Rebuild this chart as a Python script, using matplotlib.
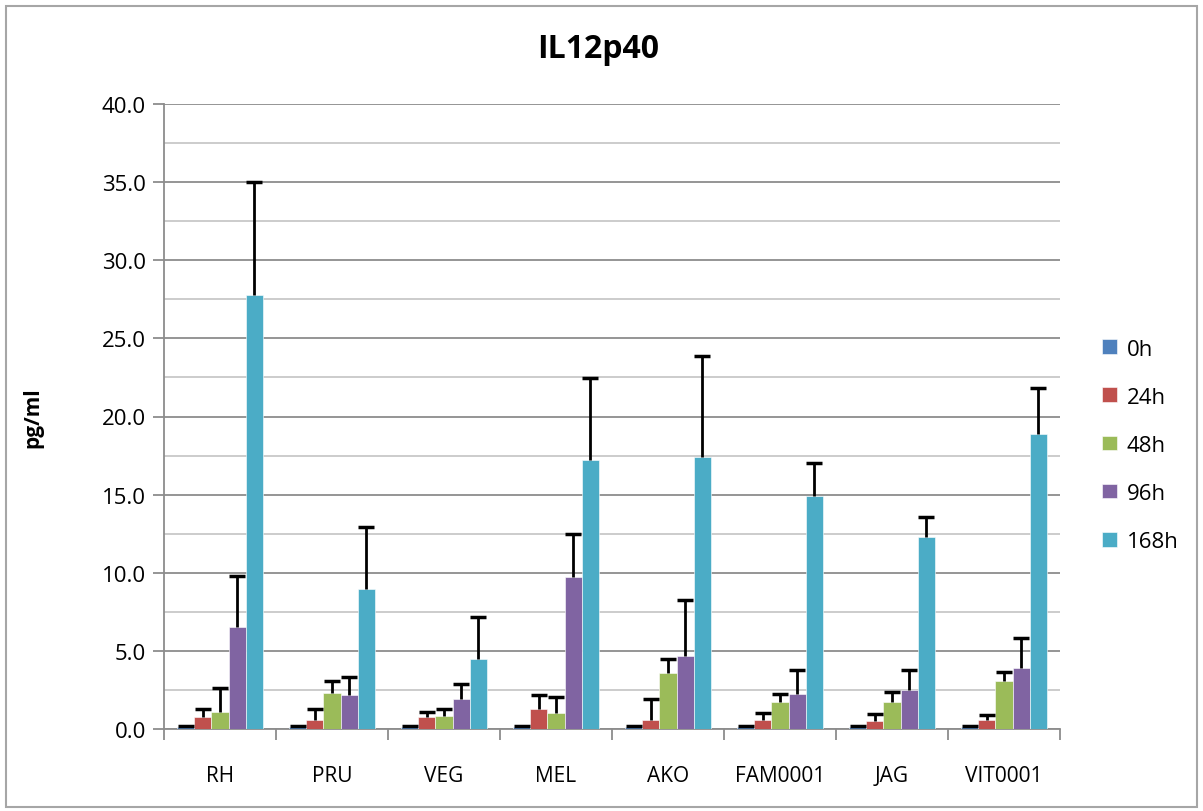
import numpy as np
import matplotlib.pyplot as plt
from matplotlib.patches import Rectangle
from matplotlib.ticker import MultipleLocator

plt.rcParams['font.family'] = ['Open Sans', 'DejaVu Sans']

strains = ['RH', 'PRU', 'VEG', 'MEL', 'AKO', 'FAM0001', 'JAG', 'VIT0001']
times = ['0h', '24h', '48h', '96h', '168h']
colors = ['#4F81BD', '#C0504D', '#9BBB59', '#8064A2', '#4BACC6']

# mean pg/ml per time point, one entry per strain
mean_0h = [0.1, 0.1, 0.1, 0.1, 0.1, 0.1, 0.1, 0.1]
mean_24h = [0.75, 0.6, 0.75, 1.25, 0.6, 0.55, 0.5, 0.6]
mean_48h = [1.1, 2.3, 0.85, 1.0, 3.6, 1.75, 1.75, 3.1]
mean_96h = [6.5, 2.15, 1.9, 9.75, 4.7, 2.25, 2.5, 3.9]
mean_168h = [27.8, 8.95, 4.5, 17.2, 17.4, 14.9, 12.3, 18.9]

# upper error (SD)
sd_0h = [0.1, 0.1, 0.1, 0.1, 0.1, 0.1, 0.1, 0.1]
sd_24h = [0.55, 0.7, 0.35, 0.95, 1.35, 0.45, 0.45, 0.3]
sd_48h = [1.5, 0.8, 0.4, 1.05, 0.85, 0.5, 0.6, 0.55]
sd_96h = [3.3, 1.2, 1.0, 2.7, 3.55, 1.5, 1.3, 1.95]
sd_168h = [7.2, 4.0, 2.65, 5.25, 6.5, 2.15, 1.3, 2.9]

means = [mean_0h, mean_24h, mean_48h, mean_96h, mean_168h]
sds = [sd_0h, sd_24h, sd_48h, sd_96h, sd_168h]

fig = plt.figure(figsize=(12.03, 8.12), dpi=100)
fig.patches.append(Rectangle((0.005, 0.005), 0.99, 0.986, transform=fig.transFigure,
                             fill=False, edgecolor='#A6A6A6', linewidth=1.5))
ax = fig.add_axes([164 / 1203, 1 - 730 / 812, (1060 - 164) / 1203, (730 - 105) / 812])

x = np.arange(len(strains))
w = 0.152
for i, (m, s) in enumerate(zip(means, sds)):
    pos = x + (i - 2) * w
    m = np.array(m)
    s = np.array(s)
    ax.bar(pos, m, width=w, color=colors[i], edgecolor='white', linewidth=0.4,
           label=times[i], zorder=3)
    # upper-only error bars: stem plus cap
    ax.vlines(pos, m, m + s, color='black', linewidth=2, zorder=4)
    ax.plot(pos, m + s, linestyle='none', marker='_', markersize=12,
            markeredgewidth=2.5, color='black', zorder=4)

ax.set_xlim(-0.5, len(strains) - 0.5)
ax.set_ylim(0, 40)
ax.yaxis.set_minor_locator(MultipleLocator(2.5))
ax.set_yticks(np.arange(0, 45, 5))
ax.set_yticklabels([f'{v:.1f}' for v in np.arange(0, 45, 5)], fontsize=16)
ax.grid(axis='y', which='major', color='#8C8C8C', linewidth=1.3, zorder=0)
ax.grid(axis='y', which='minor', color='#C8C8C8', linewidth=1.3, zorder=0)
ax.tick_params(axis='y', which='major', length=8, color='#8C8C8C', width=1.3, pad=5)
ax.tick_params(axis='y', which='minor', length=0)

ax.set_xticks(x)
ax.set_xticklabels(strains, fontsize=15)
ax.tick_params(axis='x', which='major', length=0, pad=26)
ax.set_xticks(np.arange(-0.5, len(strains)), minor=True)
ax.tick_params(axis='x', which='minor', length=8, color='#8C8C8C', width=1.3)

for sp in ['top', 'right']:
    ax.spines[sp].set_visible(False)
for sp in ['left', 'bottom']:
    ax.spines[sp].set_color('#8C8C8C')
    ax.spines[sp].set_linewidth(1.3)

ax.set_ylabel('pg/ml', fontsize=15, fontweight='bold', labelpad=42)
fig.text(0.497, 1 - 50 / 812, 'IL12p40', fontsize=23,
         fontweight='bold', ha='center', va='center')

leg = ax.legend(loc='center left', bbox_to_anchor=(1.025, 0.454), frameon=False,
                fontsize=16, handlelength=0.65, handleheight=0.65, labelspacing=1.22,
                handletextpad=0.45)

fig.savefig('out.png', dpi=100)
